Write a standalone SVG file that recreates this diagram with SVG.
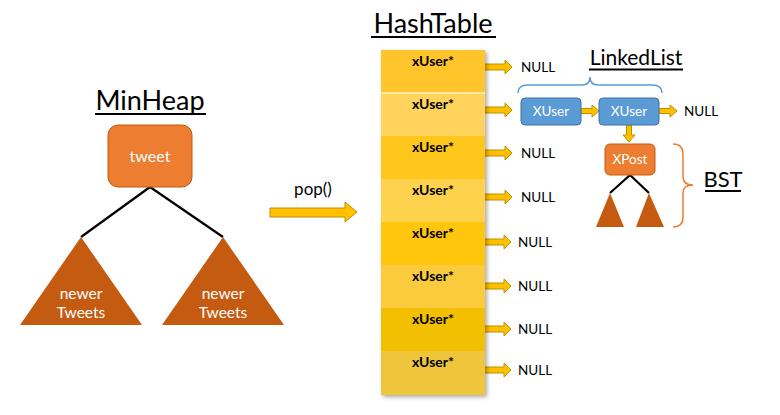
<svg xmlns="http://www.w3.org/2000/svg" xmlns:xlink="http://www.w3.org/1999/xlink" width="780" height="415" viewBox="0 0 780 415">
<style>
.t{font-family:Lato,"Open Sans","Liberation Sans",sans-serif;fill:#000}
.w{font-family:Lato,"Open Sans","Liberation Sans",sans-serif;fill:#fff;text-anchor:middle}
.arr{fill:#FFC000;stroke:#BF9000;stroke-width:1}
.orange{fill:#ED7D31;stroke:#C55A11;stroke-width:1}
.tri{fill:#C55A11}
.blue{fill:#5B9BD5;stroke:#41719C;stroke-width:1}
.edge{stroke:#000;stroke-width:2.2;fill:none}
.ul{stroke:#000;stroke-width:2}
.xu{font-family:Lato,"Open Sans","Liberation Sans",sans-serif;font-weight:bold;font-size:14px;fill:#000;text-anchor:middle}
.null{font-family:Lato,"Open Sans","Liberation Sans",sans-serif;font-size:13.5px;fill:#000}
</style>
<defs>
<path id="harr" d="M0,-3 H39 V-7 L46,0 L39,7 V3 H0 Z"/>
<path id="sarr" d="M0,-2.5 H11 V-6 L18,0 L11,6 V2.5 H0 Z"/>
<filter id="sh" x="-10%" y="-5%" width="130%" height="115%">
<feGaussianBlur in="SourceAlpha" stdDeviation="2"/>
<feOffset dx="2" dy="2"/>
<feComponentTransfer><feFuncA type="linear" slope="0.35"/></feComponentTransfer>
<feMerge><feMergeNode/><feMergeNode in="SourceGraphic"/></feMerge>
</filter>
</defs>

<g id="minheap-title">
<text class="t" x="150" y="110" font-size="27" text-anchor="middle">MinHeap</text>
<line class="ul" x1="95" y1="114" x2="206" y2="114"/>
</g>

<g id="connectors">
<line class="edge" x1="150" y1="187" x2="81" y2="237"/>
<line class="edge" x1="150" y1="187" x2="223" y2="237"/>
<line class="edge" x1="630" y1="175" x2="610" y2="193"/>
<line class="edge" x1="630" y1="175" x2="649" y2="193"/>
<path class="arr" d="M270,208 H345 V202 L357,212 L345,222 V217 H270 Z"/>
<use href="#harr" class="arr" x="466" y="67"/>
<use href="#harr" class="arr" x="466" y="110"/>
<use href="#harr" class="arr" x="466" y="153"/>
<use href="#harr" class="arr" x="466" y="197"/>
<use href="#harr" class="arr" x="465" y="242"/>
<use href="#harr" class="arr" x="465" y="286"/>
<use href="#harr" class="arr" x="465" y="329"/>
<use href="#harr" class="arr" x="465" y="370"/>
<use href="#sarr" class="arr" x="581" y="111"/>
<use href="#sarr" class="arr" x="659" y="111"/>
<path class="arr" d="M626.5,125 V135 H623 L629,142 L635,135 H631.5 V125 Z"/>
</g>

<g id="tweet">
<rect class="orange" x="108" y="125" width="84" height="62" rx="10"/>
<text class="w" x="150" y="162" font-size="16">tweet</text>
</g>
<g id="left-subtree">
<polygon class="tri" points="81,237 20,325 142,325"/>
<text class="w" x="81" y="299" font-size="15.5">newer</text>
<text class="w" x="81" y="318" font-size="15.5">Tweets</text>
</g>
<g id="right-subtree">
<polygon class="tri" points="223,237 162,325 284,325"/>
<text class="w" x="223" y="299" font-size="15.5">newer</text>
<text class="w" x="223" y="318" font-size="15.5">Tweets</text>
</g>

<g id="pop-label">
<text class="t" x="313" y="195" font-size="17" text-anchor="middle">pop()</text>
</g>

<g id="hashtable-title">
<text class="t" x="433" y="33" font-size="27" text-anchor="middle">HashTable</text>
<line class="ul" x1="371" y1="37" x2="496" y2="37"/>
</g>

<g id="hashtable">
<g filter="url(#sh)">
<rect x="381" y="50" width="104" height="43" fill="#FFC52A"/>
<rect x="381" y="93" width="104" height="43" fill="#FFD35C"/>
<rect x="381" y="136" width="104" height="43" fill="#FFC61E"/>
<rect x="381" y="179" width="104" height="43" fill="#FFD24E"/>
<rect x="381" y="222" width="104" height="43" fill="#FFC60F"/>
<rect x="381" y="265" width="104" height="43" fill="#F9CB3C"/>
<rect x="381" y="308" width="104" height="43" fill="#F2C006"/>
<rect x="381" y="351" width="104" height="44" fill="#EFC63A"/>
</g>
<line x1="381" y1="93" x2="485" y2="93" stroke="#fff" stroke-width="1.2"/>
<text class="xu" x="433" y="66">xUser*</text>
<text class="xu" x="433" y="109">xUser*</text>
<text class="xu" x="433" y="152">xUser*</text>
<text class="xu" x="433" y="195">xUser*</text>
<text class="xu" x="433" y="238">xUser*</text>
<text class="xu" x="433" y="281">xUser*</text>
<text class="xu" x="433" y="324">xUser*</text>
<text class="xu" x="433" y="367">xUser*</text>
</g>

<g id="nulls">
<text class="null" x="521" y="72">NULL</text>
<text class="null" x="521" y="158">NULL</text>
<text class="null" x="521" y="202">NULL</text>
<text class="null" x="518" y="247">NULL</text>
<text class="null" x="518" y="291">NULL</text>
<text class="null" x="518" y="334">NULL</text>
<text class="null" x="518" y="375">NULL</text>
<text class="null" x="684" y="116">NULL</text>
</g>

<g id="linkedlist-title">
<text class="t" x="636" y="65" font-size="21" text-anchor="middle">LinkedList</text>
<line class="ul" x1="589" y1="69.5" x2="683" y2="69.5"/>
<path d="M518,93 Q518,85 528,85 H582 Q590,85 590,77 Q590,85 598,85 H652 Q662,85 662,93" fill="none" stroke="#5B9BD5" stroke-width="1.5"/>
</g>

<g id="xuser1">
<rect class="blue" x="521" y="98" width="60" height="27" rx="4"/>
<text class="w" x="551" y="116" font-size="13.5">XUser</text>
</g>
<g id="xuser2">
<rect class="blue" x="599" y="98" width="60" height="27" rx="4"/>
<text class="w" x="629" y="116" font-size="13.5">XUser</text>
</g>

<g id="xpost">
<rect class="orange" x="605" y="144" width="50" height="31" rx="5"/>
<text class="w" x="630" y="164" font-size="13.5">XPost</text>
</g>
<g id="bst-left">
<polygon class="tri" points="610,193 596,227 624,227"/>
</g>
<g id="bst-right">
<polygon class="tri" points="649,193 636,227 664,227"/>
</g>

<g id="bst-title">
<path d="M673,144 Q683,144 683,154 V177 Q683,185 693,185 Q683,185 683,193 V217 Q683,227 673,227" fill="none" stroke="#ED7D31" stroke-width="1.5"/>
<text class="t" x="723" y="187" font-size="22" text-anchor="middle">BST</text>
<line class="ul" x1="705" y1="191" x2="741" y2="191"/>
</g>
</svg>
